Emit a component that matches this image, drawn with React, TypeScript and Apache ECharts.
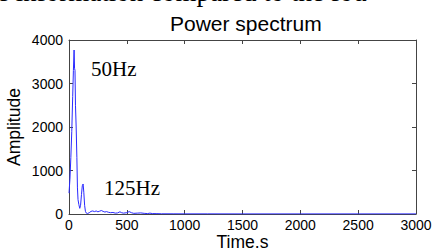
import React, { useEffect, useRef } from "react";
import * as echarts from "echarts";

const freqs = [0, 8, 16, 24, 32, 38, 44, 48, 52, 56, 62, 68, 73, 78, 85, 93, 100, 108, 115, 122, 128, 135, 142, 150, 160, 175, 190, 205, 220, 235, 250, 265, 280, 295, 310, 325, 340, 360, 380, 400, 420, 440, 455, 470, 500, 520, 540, 560, 590, 620, 650, 680, 700, 720, 760, 800, 900, 1000, 1200, 1500, 2000, 2500, 3000];
const amps = [480, 800, 1300, 1900, 2700, 3300, 3770, 3350, 3300, 2500, 2000, 1300, 600, 330, 220, 130, 200, 450, 650, 690, 500, 200, 60, 20, 10, 30, 60, 70, 55, 70, 50, 65, 80, 60, 45, 55, 40, 30, 35, 20, 25, 50, 30, 20, 30, 55, 30, 15, 20, 25, 15, 10, 20, 10, 8, 5, 4, 3, 3, 2, 2, 2, 2];

const xTicks = [0, 500, 1000, 1500, 2000, 2500, 3000];
const yTicks = [0, 1000, 2000, 3000, 4000];
const titleText = "Power spectrum";
const xName = "Time.s";
const yName = "Amplitude";
const annotations = [
  { text: "50Hz", x: 91, y: 69 },
  { text: "125Hz", x: 104, y: 188 },
];
const headerText = "e information compared to the fou";

export default function App() {
  const ref = useRef<HTMLDivElement>(null);
  useEffect(() => {
    if (!ref.current) return;
    const chart = echarts.init(ref.current, null, { renderer: "svg" });
    const axisColor = "#444";
    const sans = "Liberation Sans, Arial, sans-serif";
    const labelFont = { color: "#000", fontSize: 14, fontFamily: sans, formatter: (v: number) => String(v) };
    const xMin = xTicks[0];
    const xMax = xTicks[xTicks.length - 1];
    const xInt = xTicks[1] - xTicks[0];
    const yMin = yTicks[0];
    const yMax = yTicks[yTicks.length - 1];
    const yInt = yTicks[1] - yTicks[0];
    const tick = { show: true, inside: true, length: 4, lineStyle: { color: axisColor } };
    const line = { show: true, onZero: false, lineStyle: { color: axisColor, width: 1 } };
    chart.setOption({
      animation: false,
      backgroundColor: "#fff",
      title: {
        text: titleText,
        left: 165,
        top: 8,
        textStyle: { fontSize: 21, fontWeight: "normal", color: "#000", fontFamily: sans },
      },
      grid: { left: 69, right: 18, top: 40, bottom: 36, containLabel: false, outerBoundsMode: "none" },
      xAxis: [
        {
          type: "value",
          min: xMin,
          max: xMax,
          interval: xInt,
          name: xName,
          nameLocation: "middle",
          nameGap: 19,
          nameMoveOverlap: false,
          nameTextStyle: { fontSize: 17.5, color: "#000", fontFamily: sans },
          axisLine: line,
          axisTick: tick,
          axisLabel: { ...labelFont, margin: 4 },
          splitLine: { show: false },
        },
        {
          type: "value",
          position: "top",
          min: xMin,
          max: xMax,
          interval: xInt,
          axisLine: line,
          axisTick: tick,
          axisLabel: { show: false },
          splitLine: { show: false },
        },
      ],
      yAxis: [
        {
          type: "value",
          min: yMin,
          max: yMax,
          interval: yInt,
          name: yName,
          nameLocation: "middle",
          nameGap: 46,
          nameMoveOverlap: false,
          nameTextStyle: { fontSize: 17.5, color: "#000", fontFamily: sans },
          axisLine: line,
          axisTick: tick,
          axisLabel: { ...labelFont, margin: 6 },
          splitLine: { show: false },
        },
        {
          type: "value",
          position: "right",
          min: yMin,
          max: yMax,
          interval: yInt,
          axisLine: line,
          axisTick: tick,
          axisLabel: { show: false },
          splitLine: { show: false },
        },
      ],
      series: [
        {
          type: "line",
          data: freqs.map((f, i) => [f, amps[i]]),
          showSymbol: false,
          symbol: "none",
          lineStyle: { color: "#2a2aff", width: 1 },
          z: 3,
        },
      ],
      graphic: [
        ...annotations.map((a) => ({
          type: "text",
          x: a.x,
          y: a.y,
          style: {
            text: a.text,
            fill: "#000",
            font: "21px 'Liberation Serif', 'Times New Roman', serif",
            verticalAlign: "middle",
          },
        })),
        {
          type: "text",
          x: -3,
          y: 5,
          style: {
            text: headerText,
            fill: "#000",
            font: "27px 'Liberation Serif', 'Times New Roman', serif",
            verticalAlign: "bottom",
          },
        },
      ],
    });
    return () => chart.dispose();
  }, []);
  return (
    <div
      ref={ref}
      style={{ position: "fixed", left: 0, top: 0, width: 434, height: 250, background: "#fff" }}
    />
  );
}
